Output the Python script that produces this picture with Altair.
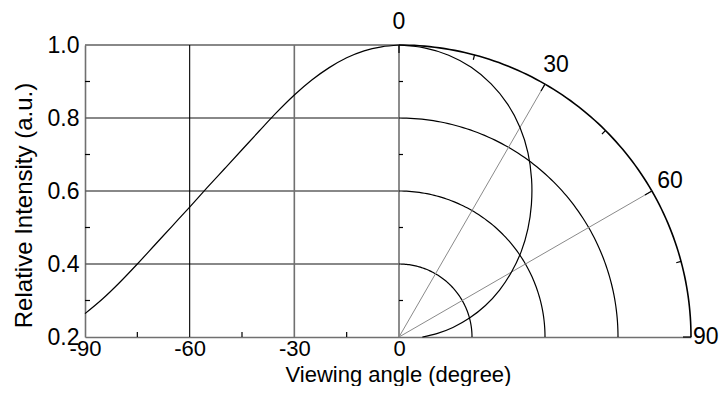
import math
import altair as alt
import pandas as pd

# ---------------- data ----------------
angles = [0, 5, 10, 15, 20, 25, 30, 35, 40, 45, 50, 55, 60, 65, 70, 75, 80, 85, 90]
intensity = [1.000, 0.995, 0.984, 0.965, 0.938, 0.904, 0.863, 0.816, 0.765, 0.713,
             0.661, 0.609, 0.556, 0.504, 0.452, 0.400, 0.350, 0.304, 0.264]
x_ticks = [-90, -60, -30, 0]
y_ticks = [0.2, 0.4, 0.6, 0.8, 1.0]
x_minor = [-75, -45, -15]
y_minor = [0.3, 0.5, 0.7, 0.9]
grid_levels = [0.4, 0.6, 0.8, 1.0]
arc_radii = [0.2, 0.4, 0.6, 0.8]
radial_angles = [30, 60]
arc_major = [0, 30, 60, 90]
arc_minor = [15, 45, 75]
polar_labels = [0, 30, 60]
edge_label = "90"

# ---------------- layout ----------------
W, H = 606, 292
YMIN, YMAX = 0.2, 1.0
RMAX = YMAX - YMIN
px_per_y = H / RMAX
px_per_deg = (W - RMAX * px_per_y) / 90.0
K = px_per_y / px_per_deg
XMAX = RMAX * K
FONT = "Liberation Sans"
FS = 23


def polar(theta, rho):
    t = math.radians(theta)
    return rho * math.sin(t) * K, YMIN + rho * math.cos(t)


xs = alt.Scale(domain=[-90, XMAX], nice=False, zero=False)
ys = alt.Scale(domain=[YMIN, YMAX], nice=False, zero=False)

X_AX = alt.Axis(values=x_ticks, labelExpr="'' + datum.value", labelFontSize=22,
                labelColor="black", labelFont=FONT, labelPadding=1.5, labelOverlap=False,
                labelFlush=False, ticks=False, grid=False, domainColor="#707070",
                domainWidth=1.6, title="Viewing angle (degree)", titleFontSize=22,
                titleFont=FONT, titleFontWeight="normal", titleColor="black",
                titleX=313, titleY=44.5, titleAlign="center", titleBaseline="alphabetic")
Y_AX = alt.Axis(values=y_ticks, format=".1f", labelFontSize=FS, labelColor="black",
                labelFont=FONT, labelPadding=6, labelOverlap=False, labelFlush=False,
                ticks=False, grid=False, domainColor="#707070", domainWidth=1.6,
                title="Relative Intensity (a.u.)", titleFontSize=24, titleFont=FONT,
                titleFontWeight="normal", titleColor="black", titleX=-61, titleY=160,
                titleAlign="center", titleBaseline="middle", titleAngle=270)


def X(f="x"):
    return alt.X(f"{f}:Q", scale=xs, axis=X_AX)


def Y(f="y"):
    return alt.Y(f"{f}:Q", scale=ys, axis=Y_AX)


# horizontal grid (left cartesian part)
hgrid = pd.DataFrame({"x": [-90] * len(grid_levels), "x2": [0] * len(grid_levels), "y": grid_levels})
hgrid_layer = alt.Chart(hgrid).mark_rule(color="#606060", strokeWidth=1.6).encode(
    x=X(), x2="x2:Q", y=Y())

vgrid_black = pd.DataFrame({"x": [-60], "y": [YMIN], "y2": [YMAX]})
vgrid_gray = pd.DataFrame({"x": [-30, 0], "y": [YMIN, YMIN], "y2": [YMAX, YMAX]})
vb_layer = alt.Chart(vgrid_black).mark_rule(color="black", strokeWidth=1.1).encode(
    x=X(), y=Y(), y2="y2:Q")
vg_layer = alt.Chart(vgrid_gray).mark_rule(color="#707070", strokeWidth=1.6).encode(
    x=X(), y=Y(), y2="y2:Q")

# arcs
arc_rows = []
for r in arc_radii:
    for t in range(0, 91):
        px, py = polar(t, r)
        arc_rows.append({"r": r, "t": t, "x": px, "y": py})
arc_df = pd.DataFrame(arc_rows)
arc_inner = alt.Chart(arc_df[arc_df.r < RMAX]).mark_line(color="black", strokeWidth=1.2).encode(
    x=X(), y=Y(), detail="r:N", order="t:Q")
arc_outer = alt.Chart(arc_df[arc_df.r == RMAX]).mark_line(color="black", strokeWidth=1.6).encode(
    x=X(), y=Y(), detail="r:N", order="t:Q")

# radial lines
rad_rows = []
for a in radial_angles:
    ex, ey = polar(a, RMAX)
    rad_rows.append({"x": 0.0, "y": YMIN, "x2": ex, "y2": ey})
rad_layer = alt.Chart(pd.DataFrame(rad_rows)).mark_rule(color="#8a8a8a", strokeWidth=1.0).encode(
    x=X(), y=Y(), x2="x2:Q", y2="y2:Q")

# minor / major ticks
tick_rows = []
for v in y_minor:
    tick_rows.append({"x": -90, "y": v, "x2": -90 + 5 / px_per_deg, "y2": v})
    tick_rows.append({"x": 0, "y": v, "x2": 0 + 4 / px_per_deg, "y2": v})
for v in x_minor:
    tick_rows.append({"x": v, "y": YMIN, "x2": v, "y2": YMIN + 5 / px_per_y})
for a in arc_minor + arc_major:
    ln = 5 if a in arc_minor else 8
    ox, oy = polar(a, RMAX)
    ix, iy = polar(a, RMAX - ln / px_per_y)
    tick_rows.append({"x": ox, "y": oy, "x2": ix, "y2": iy})
tick_layer = alt.Chart(pd.DataFrame(tick_rows)).mark_rule(color="black", strokeWidth=1.2).encode(
    x=X(), y=Y(), x2="x2:Q", y2="y2:Q")

# intensity curve, cartesian
cart_df = pd.DataFrame({"x": [-a for a in angles], "y": intensity})
cart_layer = alt.Chart(cart_df).mark_line(color="black", strokeWidth=1.2, interpolate="monotone").encode(
    x=X(), y=Y())

# intensity curve, polar
pol_rows = []
for a, v in zip(angles, intensity):
    px, py = polar(a, v - YMIN)
    pol_rows.append({"t": a, "x": px, "y": py})
pol_layer = alt.Chart(pd.DataFrame(pol_rows)).mark_line(
    color="black", strokeWidth=1.2, interpolate="catmull-rom").encode(x=X(), y=Y(), order="t:Q")

# polar angle labels
lab_rows = []
for a in polar_labels:
    px, py = polar(a, RMAX + (23 - a / 30.0) / px_per_y)
    lab_rows.append({"x": px, "y": py, "txt": str(a)})
lab_layer = alt.Chart(pd.DataFrame(lab_rows)).mark_text(
    font=FONT, fontSize=FS, color="black", align="center", baseline="middle").encode(
    x=X(), y=Y(), text="txt:N")
ex90, ey90 = polar(90, RMAX)
edge_layer = alt.Chart(pd.DataFrame({"x": [ex90], "y": [ey90], "txt": [edge_label]})).mark_text(
    font=FONT, fontSize=FS, color="black", align="left", baseline="middle", dx=2).encode(
    x=X(), y=Y(), text="txt:N")

chart = alt.layer(
    hgrid_layer, vb_layer, vg_layer, arc_inner, arc_outer, rad_layer, tick_layer,
    cart_layer, pol_layer, lab_layer, edge_layer
).properties(
    width=W, height=H,
    autosize=alt.AutoSizeParams(type="none"),
    padding={"left": 77, "top": 37, "right": 29, "bottom": 49},
).configure(font=FONT, background="white").configure_view(stroke=None)

chart.save("out.html", embed_options={"renderer": "svg", "actions": False})
